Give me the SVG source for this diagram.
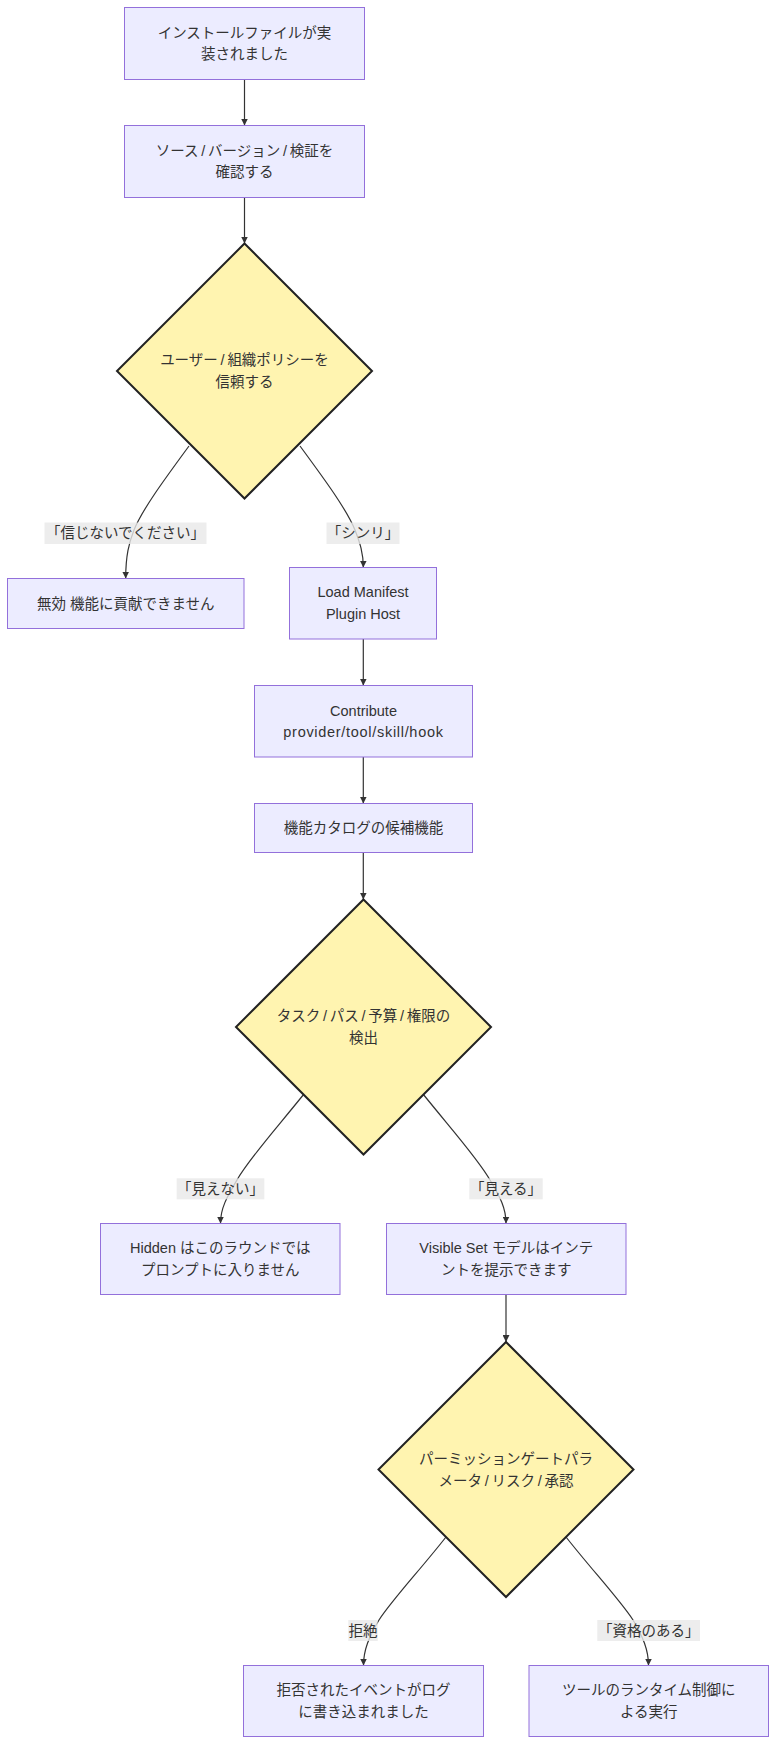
<svg xmlns="http://www.w3.org/2000/svg" width="784" height="1763" viewBox="0 0 784 1763">
<style>
  .box { fill: #ECECFF; stroke: #9370DB; stroke-width: 1; }
  .dia { fill: #FFF4B0; stroke: #222222; stroke-width: 2; }
  .t { font-family: "Liberation Sans", "Noto Sans CJK JP", sans-serif; font-size: 14.5px; fill: #333333; text-anchor: middle; dominant-baseline: central; }
  .sl { letter-spacing: 2.75px; }
  .wide { letter-spacing: 0.7px; }
  .edge { fill: none; stroke: #333333; stroke-width: 1.2; }
  .lbl { fill: #e8e8e8; fill-opacity: 0.8; }
</style>
<defs>
  <marker id="arrow" viewBox="0 0 10 10" refX="10" refY="5" markerWidth="7" markerHeight="7" markerUnits="userSpaceOnUse" orient="auto">
    <path d="M0,0 L10,5 L0,10 z" fill="#333333"/>
  </marker>
</defs>
<rect width="784" height="1763" fill="#ffffff"/>

<g id="connectors">
  <path class="edge" d="M244.5,79.5 L244.5,125.5" marker-end="url(#arrow)"/>
  <path class="edge" d="M244.5,197.5 L244.5,243.5" marker-end="url(#arrow)"/>
  <path class="edge" d="M189,446 C164,480 142,510 134,530 C129,543 125.7,555 125.7,578.5" marker-end="url(#arrow)"/>
  <path class="edge" d="M300,446 C325,480 347,510 355,530 C360,543 363.3,553 363.3,567.5" marker-end="url(#arrow)"/>
  <path class="edge" d="M363.3,639 L363.3,685.5" marker-end="url(#arrow)"/>
  <path class="edge" d="M363.3,757 L363.3,803.5" marker-end="url(#arrow)"/>
  <path class="edge" d="M363.3,852.5 L363.3,899.5" marker-end="url(#arrow)"/>
  <path class="edge" d="M304,1094 C275,1130 248,1160 237,1180 C227,1197 220.5,1208 220.5,1223.5" marker-end="url(#arrow)"/>
  <path class="edge" d="M423,1094 C452,1130 479,1160 490,1180 C500,1197 506,1208 506,1223.5" marker-end="url(#arrow)"/>
  <path class="edge" d="M506,1294.5 L506,1342" marker-end="url(#arrow)"/>
  <path class="edge" d="M446,1537 C420,1570 392,1600 379,1620 C369,1637 363.5,1650 363.5,1665.5" marker-end="url(#arrow)"/>
  <path class="edge" d="M566,1537 C592,1570 620,1600 633,1620 C643,1637 648.5,1650 648.5,1665.5" marker-end="url(#arrow)"/>
</g>

<g id="edge-labels">
  <g id="lbl-no-trust">
    <rect class="lbl" x="44.5" y="522.5" width="162" height="21.5"/>
    <text class="t" x="125.5" y="533.25">「信じないでください」</text>
  </g>
  <g id="lbl-trust">
    <rect class="lbl" x="326.5" y="522.5" width="73" height="21.5"/>
    <text class="t" x="363" y="533.25">「シンリ」</text>
  </g>
  <g id="lbl-invisible">
    <rect class="lbl" x="176.7" y="1178.3" width="87.6" height="21"/>
    <text class="t" x="220.5" y="1188.8">「見えない」</text>
  </g>
  <g id="lbl-visible">
    <rect class="lbl" x="469.3" y="1178.3" width="73.4" height="21"/>
    <text class="t" x="506" y="1188.8">「見える」</text>
  </g>
  <g id="lbl-reject">
    <rect class="lbl" x="348.3" y="1620" width="29.4" height="21"/>
    <text class="t" x="363" y="1630.5">拒絶</text>
  </g>
  <g id="lbl-eligible">
    <rect class="lbl" x="597.3" y="1620" width="102.7" height="21"/>
    <text class="t" x="648.7" y="1630.5">「資格のある」</text>
  </g>
</g>

<g id="node-install">
  <rect class="box" x="124.5" y="7.5" width="240" height="72"/>
  <text class="t" x="244.5" y="32.5">インストールファイルが実</text>
  <text class="t" x="244.5" y="54">装されました</text>
</g>
<g id="node-verify">
  <rect class="box" x="124.5" y="125.5" width="240" height="72"/>
  <text class="t" x="244.5" y="150.5">ソース<tspan class="sl" dx="2.75">/</tspan>バージョン<tspan class="sl" dx="2.75">/</tspan>検証を</text>
  <text class="t" x="244.5" y="172">確認する</text>
</g>
<g id="node-trust">
  <polygon class="dia" points="244.5,243.5 372,371 244.5,498.5 117,371"/>
  <text class="t" x="244.5" y="360">ユーザー<tspan class="sl" dx="2.75">/</tspan>組織ポリシーを</text>
  <text class="t" x="244.5" y="382">信頼する</text>
</g>
<g id="node-disabled">
  <rect class="box" x="7.5" y="578.5" width="236.5" height="50"/>
  <text class="t" x="125.75" y="603.5">無効 機能に貢献できません</text>
</g>
<g id="node-load">
  <rect class="box" x="289.5" y="567.5" width="147" height="71.5"/>
  <text class="t" x="363" y="592">Load Manifest</text>
  <text class="t" x="363" y="614">Plugin Host</text>
</g>
<g id="node-contribute">
  <rect class="box" x="254.5" y="685.5" width="218" height="71.5"/>
  <text class="t" x="363.5" y="710.5">Contribute</text>
  <text class="t wide" x="363.5" y="732">provider/tool/skill/hook</text>
</g>
<g id="node-catalog">
  <rect class="box" x="254.5" y="803.5" width="218" height="49"/>
  <text class="t" x="363.5" y="828">機能カタログの候補機能</text>
</g>
<g id="node-detect">
  <polygon class="dia" points="363.5,899.5 491,1027 363.5,1154.5 236,1027"/>
  <text class="t" x="363.5" y="1016">タスク<tspan class="sl" dx="2.75">/</tspan>パス<tspan class="sl" dx="2.75">/</tspan>予算<tspan class="sl" dx="2.75">/</tspan>権限の</text>
  <text class="t" x="363.5" y="1038">検出</text>
</g>
<g id="node-hidden">
  <rect class="box" x="100.5" y="1223.5" width="239.5" height="71"/>
  <text class="t" x="220.25" y="1248">Hidden はこのラウンドでは</text>
  <text class="t" x="220.25" y="1270">プロンプトに入りません</text>
</g>
<g id="node-visible">
  <rect class="box" x="386.5" y="1223.5" width="239.5" height="71"/>
  <text class="t" x="506.25" y="1248">Visible Set モデルはインテ</text>
  <text class="t" x="506.25" y="1270">ントを提示できます</text>
</g>
<g id="node-gate">
  <polygon class="dia" points="506,1342 633.5,1469.5 506,1597 378.5,1469.5"/>
  <text class="t" x="506" y="1458.5">パーミッションゲートパラ</text>
  <text class="t" x="506" y="1480.5">メータ<tspan class="sl" dx="2.75">/</tspan>リスク<tspan class="sl" dx="2.75">/</tspan>承認</text>
</g>
<g id="node-rejected">
  <rect class="box" x="243.5" y="1665.5" width="240" height="71"/>
  <text class="t" x="363.5" y="1690">拒否されたイベントがログ</text>
  <text class="t" x="363.5" y="1712">に書き込まれました</text>
</g>
<g id="node-run">
  <rect class="box" x="529" y="1665.5" width="239.5" height="71"/>
  <text class="t" x="648.75" y="1690">ツールのランタイム制御に</text>
  <text class="t" x="648.75" y="1712">よる実行</text>
</g>
</svg>
